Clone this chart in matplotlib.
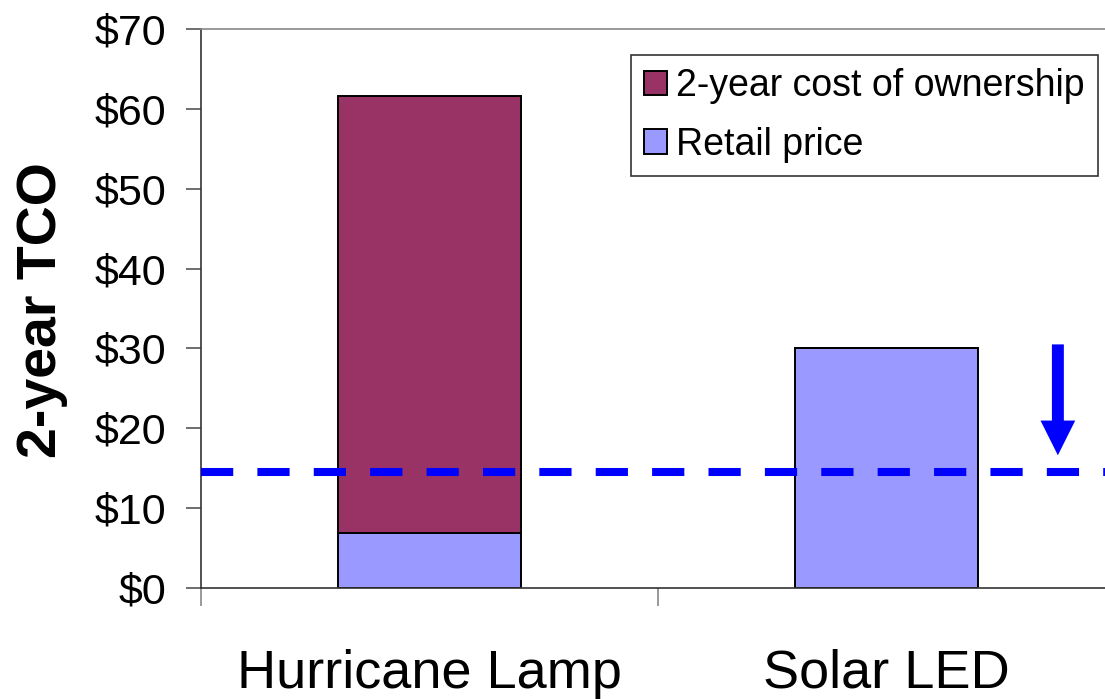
import numpy as np
import matplotlib
matplotlib.use('Agg')
import matplotlib.pyplot as plt

plt.rcParams['font.family'] = ['Liberation Sans', 'DejaVu Sans']

# datos
lamps = ['Hurricane Lamp', 'Solar LED']
retail = [6.8, 30.0]
tco_2yr = [61.7, 30.0]
tco_target = 14.5

col_tco = '#993366'
col_retail = '#9999FF'

x = np.arange(len(lamps))
extra = [t - r for t, r in zip(tco_2yr, retail)]

fig = plt.figure(figsize=(11.05, 6.99), dpi=100)
ax = fig.add_axes([201/1105, 1 - 587.7/699, 914/1105, (587.7 - 29.3)/699])

ax.bar(x, retail, width=0.4, color=col_retail, edgecolor='black', linewidth=1.4,
       label='Retail price', zorder=2)
ax.bar(x, extra, bottom=retail, width=0.4, color=col_tco, edgecolor='black',
       linewidth=1.4, label='2-year cost of ownership', zorder=2)

# linea meta y flecha
ax.axhline(tco_target, color='#0000FF', lw=5.8, dashes=(4, 3), zorder=3)
ax.annotate('', xy=(1.375, tco_target + 2.1), xytext=(1.375, retail[1] + 0.5),
            arrowprops=dict(width=8.6, headwidth=25, headlength=25, shrink=0,
                            color='#0000FF', lw=0))

ax.set_xlim(-0.5, 1.5)
ax.set_ylim(0, 70)
ax.set_yticks(np.arange(0, 71, 10))
ax.set_yticklabels([f'${v}' for v in range(0, 71, 10)], fontsize=31)
ax.tick_params(axis='y', direction='out', length=11, width=1.2, color='#555555', pad=14)

ax.set_xticks(x)
ax.set_xticklabels(lamps, fontsize=39)
ax.set_xticks([-0.5, 0.5, 1.5], minor=True)
ax.tick_params(axis='x', which='major', length=0, pad=44)
ax.tick_params(axis='x', which='minor', direction='out', length=13, width=1.2, color='#888888')

ax.spines['right'].set_visible(False)
ax.spines['top'].set_color('#888888')
ax.spines['left'].set_color('#333333')
ax.spines['bottom'].set_color('#333333')
for s in ['top', 'left', 'bottom']:
    ax.spines[s].set_linewidth(1.2)

fig.text(42/1105, 1 - 310/699, '2-year TCO', rotation=90, fontsize=40,
         fontweight='bold', ha='center', va='center')

h, l = ax.get_legend_handles_labels()
leg = ax.legend(h[::-1], l[::-1], loc='upper right', fontsize=27,
                bbox_to_anchor=(1098/1105, 1 - 55/699), bbox_transform=fig.transFigure,
                borderaxespad=0, fancybox=False, framealpha=1, edgecolor='#333333',
                handlelength=0.62, handleheight=0.62, handletextpad=0.25,
                borderpad=0.35, labelspacing=0.6)
leg.get_frame().set_linewidth(1.2)

plt.savefig('out.png', dpi=100)
